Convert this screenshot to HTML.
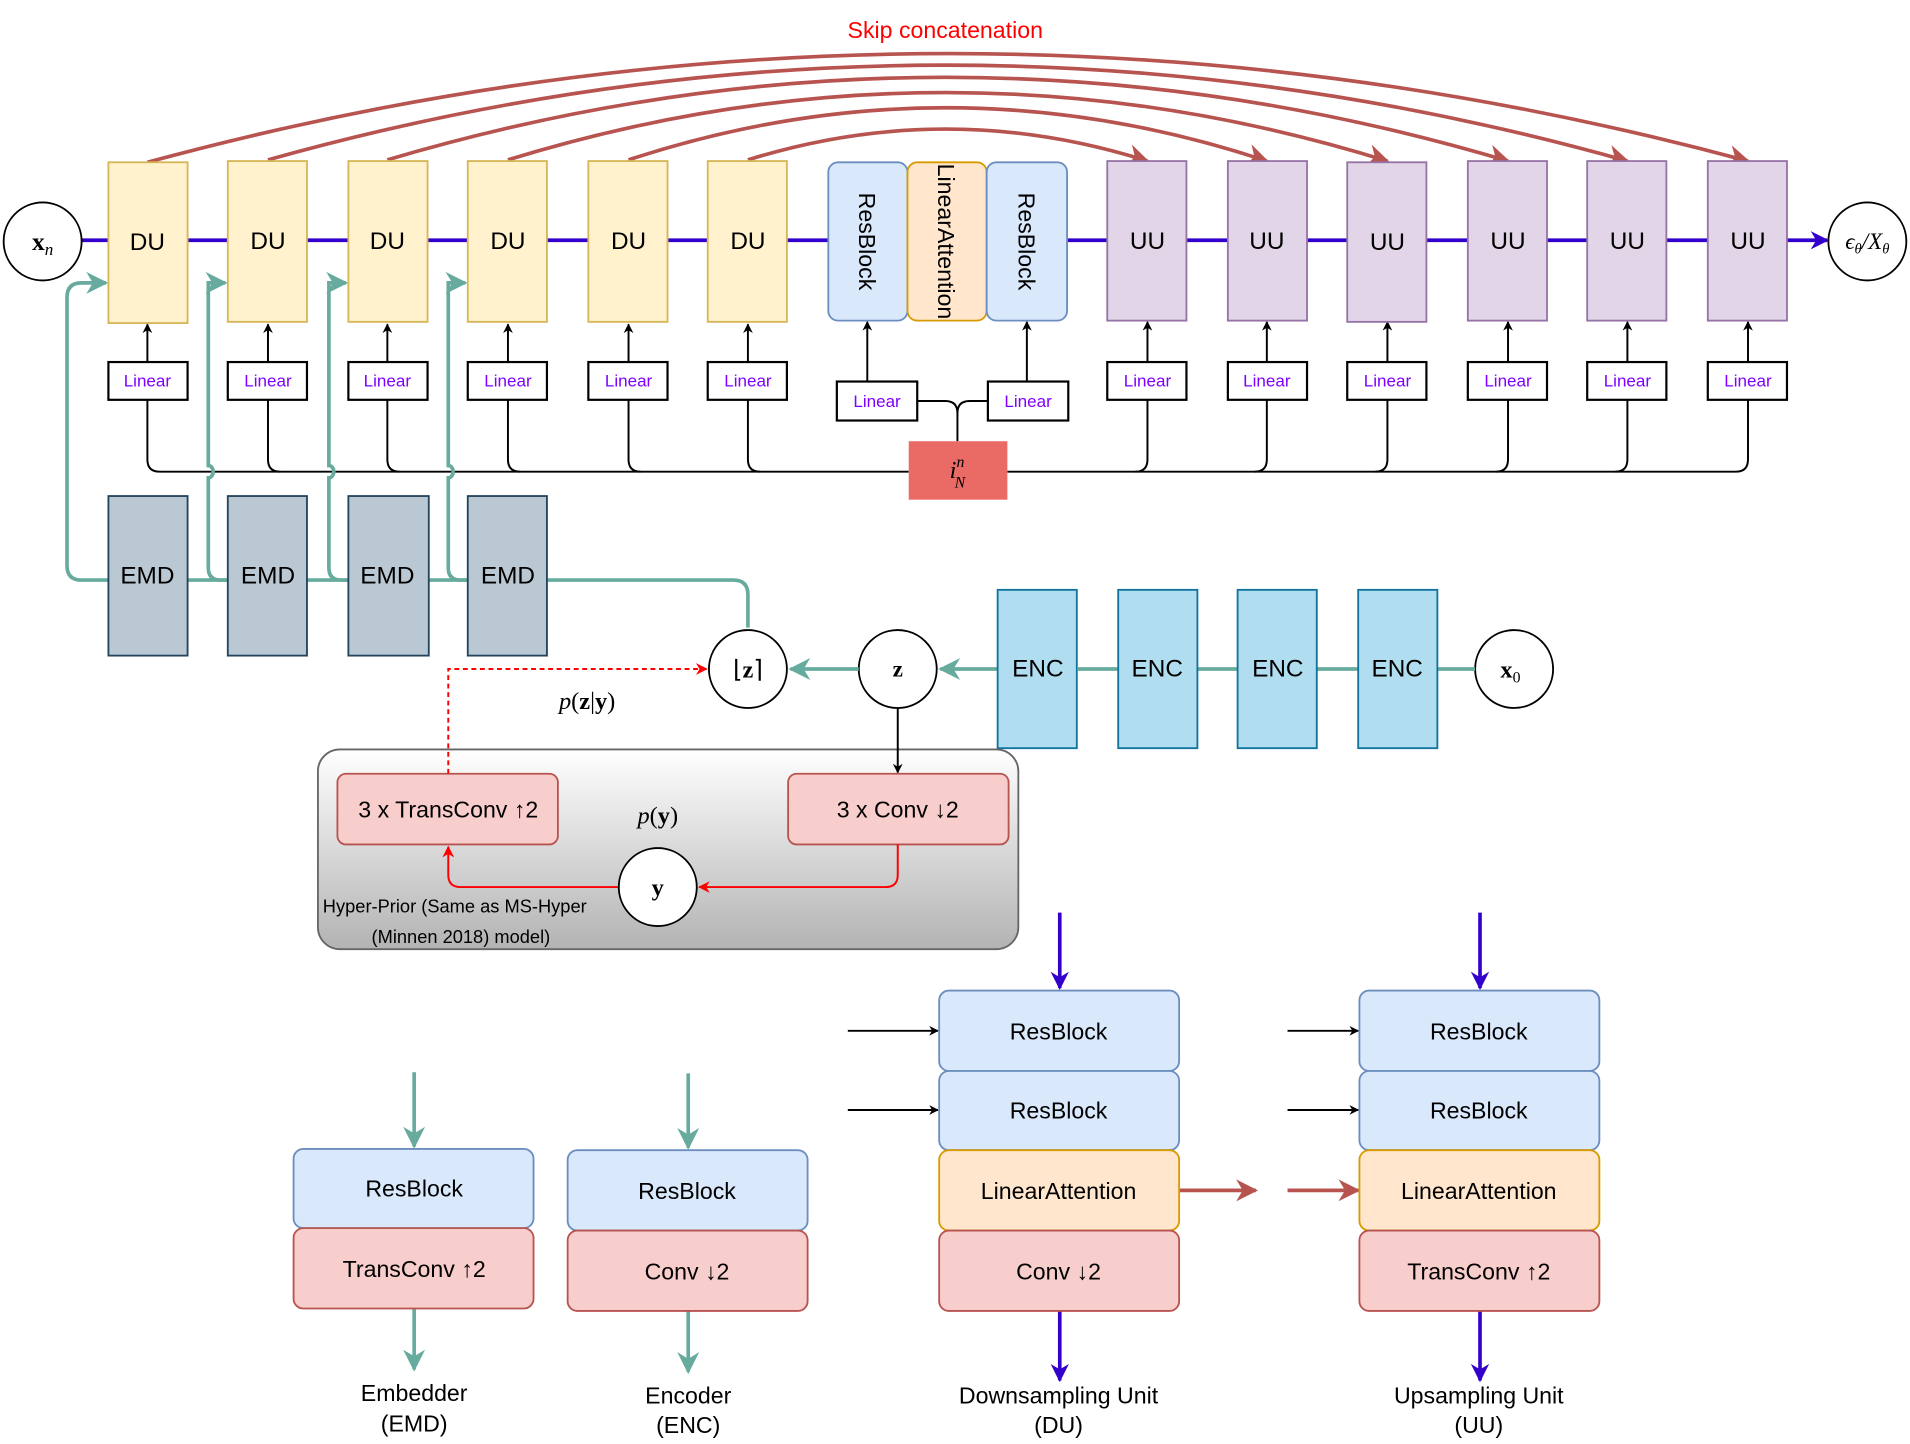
<!DOCTYPE html>
<html><head><meta charset="utf-8"><style>
html,body{margin:0;padding:0;background:#fff;}
svg{display:block;}
text{font-family:"Liberation Sans",sans-serif;}
.m{font-family:"Liberation Serif",serif;}
</style></head><body>
<svg width="1910" height="1444" viewBox="0 0 1568 1185" xmlns="http://www.w3.org/2000/svg">
<defs>
<marker id="ar" viewBox="0 0 10 10" refX="9" refY="5" markerWidth="6" markerHeight="6" orient="auto"><path d="M0,0 L10,5 L0,10 L3,5 z" fill="#b85450"/></marker>
<marker id="ab" viewBox="0 0 10 10" refX="9" refY="5" markerWidth="5" markerHeight="5" orient="auto"><path d="M0,0 L10,5 L0,10 L3,5 z" fill="#000"/></marker>
<marker id="ag" viewBox="0 0 10 10" refX="9" refY="5" markerWidth="6" markerHeight="6" orient="auto"><path d="M0,0 L10,5 L0,10 L3,5 z" fill="#67ab9f"/></marker>
<marker id="ap" viewBox="0 0 10 10" refX="9" refY="5" markerWidth="5" markerHeight="5" orient="auto"><path d="M0,0 L10,5 L0,10 L3,5 z" fill="#3300cc"/></marker>
<marker id="arr" viewBox="0 0 10 10" refX="9" refY="5" markerWidth="6" markerHeight="6" orient="auto"><path d="M0,0 L10,5 L0,10 L3,5 z" fill="#ff0000"/></marker>
<linearGradient id="gr" x1="0" y1="0" x2="0" y2="1"><stop offset="0" stop-color="#fff"/><stop offset="1" stop-color="#b3b3b3"/></linearGradient>
</defs>

<text x="776" y="31" fill="#ff0000" font-size="19" text-anchor="middle">Skip concatenation</text>
<g fill="none" stroke="#b85450" stroke-width="3" marker-end="url(#ar)">
<path d="M121 133 Q778 -45 1435 132"/>
<path d="M220 131 Q778 -25 1336 132"/>
<path d="M318 131 Q778 -5 1238 132"/>
<path d="M417 131 Q778 20 1139 132"/>
<path d="M516 131 Q778 45 1040 132"/>
<path d="M614 131 Q778 80 942 132"/>
</g>

<line x1="67" y1="197" x2="1500" y2="197" stroke="#3300cc" stroke-width="3" marker-end="url(#ap)"/>

<g fill="none" stroke="#000" stroke-width="1.6">
<path d="M121 328 V377 Q121 387 131 387 H746"/>
<path d="M1435 328 V377 Q1435 387 1425 387 H827"/>
<path d="M220 328 V377 Q220 387 230 387"/>
<path d="M318 328 V377 Q318 387 328 387"/>
<path d="M417 328 V377 Q417 387 427 387"/>
<path d="M516 328 V377 Q516 387 526 387"/>
<path d="M614 328 V377 Q614 387 624 387"/>
<path d="M942 328 V377 Q942 387 932 387"/>
<path d="M1040 328 V377 Q1040 387 1030 387"/>
<path d="M1139 328 V377 Q1139 387 1129 387"/>
<path d="M1238 328 V377 Q1238 387 1228 387"/>
<path d="M1336 328 V377 Q1336 387 1326 387"/>
<path d="M753 329 H776 Q786 329 786 339 V362"/>
<path d="M811 329 H796 Q786 329 786 339"/>
</g>
<g stroke="#000" stroke-width="1.6" marker-end="url(#ab)">
<line x1="121" y1="297" x2="121" y2="266"/><line x1="220" y1="297" x2="220" y2="266"/>
<line x1="318" y1="297" x2="318" y2="266"/><line x1="417" y1="297" x2="417" y2="266"/>
<line x1="516" y1="297" x2="516" y2="266"/><line x1="614" y1="297" x2="614" y2="266"/>
<line x1="712" y1="313" x2="712" y2="264"/><line x1="843" y1="313" x2="843" y2="264"/>
<line x1="942" y1="297" x2="942" y2="264"/><line x1="1040" y1="297" x2="1040" y2="264"/>
<line x1="1139" y1="297" x2="1139" y2="264"/><line x1="1238" y1="297" x2="1238" y2="264"/>
<line x1="1336" y1="297" x2="1336" y2="264"/><line x1="1435" y1="297" x2="1435" y2="264"/>
</g>

<g fill="none" stroke="#67ab9f" stroke-width="3">
<path d="M614 515 V488 Q614 476 602 476 H67 Q55 476 55 464 V244 Q55 232 67 232 H87" marker-end="url(#ag)"/>
<path d="M187 476 H181 Q171 476 171 466 V392 A4 5 0 0 0 171 382 V232 H185" marker-end="url(#ag)"/>
<path d="M286 476 H280 Q270 476 270 466 V392 A4 5 0 0 0 270 382 V232 H284" marker-end="url(#ag)"/>
<path d="M384 476 H378 Q368 476 368 466 V392 A4 5 0 0 0 368 382 V232 H382" marker-end="url(#ag)"/>
</g>

<g fill="#fff2cc" stroke="#d6b656" stroke-width="1.5">
<rect x="89" y="133" width="65" height="132"/><rect x="187" y="132" width="65" height="132"/>
<rect x="286" y="132" width="65" height="132"/><rect x="384" y="132" width="65" height="132"/>
<rect x="483" y="132" width="65" height="132"/><rect x="581" y="132" width="65" height="132"/>
</g>
<g font-size="20" text-anchor="middle">
<text x="121" y="205">DU</text><text x="220" y="204">DU</text><text x="318" y="204">DU</text>
<text x="417" y="204">DU</text><text x="516" y="204">DU</text><text x="614" y="204">DU</text>
</g>
<rect x="680" y="133" width="65" height="130" rx="8" fill="#dae8fc" stroke="#6c8ebf" stroke-width="1.5"/>
<rect x="745" y="133" width="65" height="130" rx="8" fill="#ffe6cc" stroke="#d79b00" stroke-width="1.5"/>
<rect x="810" y="133" width="66" height="130" rx="8" fill="#dae8fc" stroke="#6c8ebf" stroke-width="1.5"/>
<g font-size="19" text-anchor="middle">
<text transform="translate(705,198) rotate(90)">ResBlock</text>
<text transform="translate(770,198) rotate(90)">LinearAttention</text>
<text transform="translate(836,198) rotate(90)">ResBlock</text>
</g>
<g fill="#e1d5e7" stroke="#9673a6" stroke-width="1.5">
<rect x="909" y="132" width="65" height="131"/><rect x="1008" y="132" width="65" height="131"/>
<rect x="1106" y="133" width="65" height="131"/><rect x="1205" y="132" width="65" height="131"/>
<rect x="1303" y="132" width="65" height="131"/><rect x="1402" y="132" width="65" height="131"/>
</g>
<g font-size="20" text-anchor="middle">
<text x="942" y="204">UU</text><text x="1040" y="204">UU</text><text x="1139" y="205">UU</text>
<text x="1238" y="204">UU</text><text x="1336" y="204">UU</text><text x="1435" y="204">UU</text>
</g>

<g fill="#fff" stroke="#000" stroke-width="1.8">
<rect x="89" y="297" width="65" height="31"/><rect x="187" y="297" width="65" height="31"/>
<rect x="286" y="297" width="65" height="31"/><rect x="384" y="297" width="65" height="31"/>
<rect x="483" y="297" width="65" height="31"/><rect x="581" y="297" width="65" height="31"/>
<rect x="687" y="313" width="66" height="32"/><rect x="811" y="313" width="66" height="32"/>
<rect x="909" y="297" width="65" height="31"/><rect x="1008" y="297" width="65" height="31"/>
<rect x="1106" y="297" width="65" height="31"/><rect x="1205" y="297" width="65" height="31"/>
<rect x="1303" y="297" width="65" height="31"/><rect x="1402" y="297" width="65" height="31"/>
</g>
<g font-size="14" fill="#7f00ff" text-anchor="middle">
<text x="121" y="317">Linear</text><text x="220" y="317">Linear</text><text x="318" y="317">Linear</text>
<text x="417" y="317">Linear</text><text x="516" y="317">Linear</text><text x="614" y="317">Linear</text>
<text x="720" y="334">Linear</text><text x="844" y="334">Linear</text>
<text x="942" y="317">Linear</text><text x="1040" y="317">Linear</text><text x="1139" y="317">Linear</text>
<text x="1238" y="317">Linear</text><text x="1336" y="317">Linear</text><text x="1435" y="317">Linear</text>
</g>

<rect x="746" y="362" width="81" height="48" fill="#ea6b66"/>
<text x="786" y="392" class="m" font-size="20" font-style="italic" text-anchor="middle">i<tspan font-size="13" dy="-9">n</tspan><tspan font-size="13" dx="-8" dy="17">N</tspan></text>

<g fill="#bac8d3" stroke="#23445d" stroke-width="1.5">
<rect x="89" y="407" width="65" height="131"/><rect x="187" y="407" width="65" height="131"/>
<rect x="286" y="407" width="66" height="131"/><rect x="384" y="407" width="65" height="131"/>
</g>
<g font-size="20" text-anchor="middle">
<text x="121" y="479">EMD</text><text x="220" y="479">EMD</text><text x="318" y="479">EMD</text><text x="417" y="479">EMD</text>
</g>

<g fill="#fff" stroke="#000" stroke-width="1.5">
<circle cx="35" cy="198" r="32"/><circle cx="1533" cy="198" r="32"/>
<circle cx="614" cy="549" r="32"/><circle cx="737" cy="549" r="32"/><circle cx="1243" cy="549" r="32"/>
</g>
<text x="35" y="205" class="m" font-size="21" text-anchor="middle"><tspan font-weight="bold">x</tspan><tspan font-style="italic" font-size="14" dy="4">n</tspan></text>
<text x="1533" y="204" class="m" font-size="19" font-style="italic" text-anchor="middle">ϵ<tspan font-size="12" dy="4">θ</tspan><tspan dy="-4">/X</tspan><tspan font-size="12" dy="4">θ</tspan></text>
<text x="614" y="556" class="m" font-size="20" text-anchor="middle">⌊<tspan font-weight="bold">z</tspan>⌉</text>
<text x="737" y="555" class="m" font-size="19" font-weight="bold" text-anchor="middle">z</text>
<text x="1240" y="556" class="m" font-size="20" text-anchor="middle"><tspan font-weight="bold">x</tspan><tspan font-size="13" dy="4">0</tspan></text>

<g fill="none" stroke="#67ab9f" stroke-width="3">
<line x1="1211" y1="549" x2="885" y2="549"/>
<line x1="819" y1="549" x2="772" y2="549" marker-end="url(#ag)"/>
<line x1="705" y1="549" x2="649" y2="549" marker-end="url(#ag)"/>
</g>
<g fill="#b1ddf0" stroke="#10739e" stroke-width="1.5">
<rect x="819" y="484" width="65" height="130"/><rect x="918" y="484" width="65" height="130"/>
<rect x="1016" y="484" width="65" height="130"/><rect x="1115" y="484" width="65" height="130"/>
</g>
<g font-size="20" text-anchor="middle">
<text x="852" y="555">ENC</text><text x="950" y="555">ENC</text><text x="1049" y="555">ENC</text><text x="1147" y="555">ENC</text>
</g>

<rect x="261" y="615" width="575" height="164" rx="18" fill="url(#gr)" stroke="#666" stroke-width="1.5"/>
<line x1="737" y1="581" x2="737" y2="634" stroke="#000" stroke-width="1.6" marker-end="url(#ab)"/>
<rect x="277" y="635" width="181" height="58" rx="7" fill="#f8cecc" stroke="#b85450" stroke-width="1.5"/>
<rect x="647" y="635" width="181" height="58" rx="7" fill="#f8cecc" stroke="#b85450" stroke-width="1.5"/>
<text x="368" y="671" font-size="19" text-anchor="middle">3 x TransConv ↑2</text>
<text x="737" y="671" font-size="19" text-anchor="middle">3 x Conv ↓2</text>
<text x="540" y="676" class="m" font-size="20" text-anchor="middle"><tspan font-style="italic">p</tspan>(<tspan font-weight="bold">y</tspan>)</text>
<g fill="none" stroke="#ff0000" stroke-width="1.6">
<path d="M737 693 V718 Q737 728 727 728 H574" marker-end="url(#arr)"/>
<path d="M508 728 H378 Q368 728 368 718 V695" marker-end="url(#arr)"/>
<path d="M368 635 V549 H580" stroke-dasharray="4 3" marker-end="url(#arr)"/>
</g>
<circle cx="540" cy="728" r="32" fill="#fff" stroke="#000" stroke-width="1.5"/>
<text x="540" y="735" class="m" font-size="20" font-weight="bold" text-anchor="middle">y</text>
<text x="482" y="582" class="m" font-size="20" text-anchor="middle"><tspan font-style="italic">p</tspan>(<tspan font-weight="bold">z</tspan>|<tspan font-weight="bold">y</tspan>)</text>
<text x="265" y="749" font-size="15">Hyper-Prior (Same as MS-Hyper</text>
<text x="305" y="774" font-size="15">(Minnen 2018) model)</text>

<g stroke-width="3" fill="none">
<line x1="340" y1="880" x2="340" y2="941" stroke="#67ab9f" marker-end="url(#ag)"/>
<line x1="340" y1="1074" x2="340" y2="1124" stroke="#67ab9f" marker-end="url(#ag)"/>
<line x1="565" y1="881" x2="565" y2="942" stroke="#67ab9f" marker-end="url(#ag)"/>
<line x1="565" y1="1076" x2="565" y2="1126" stroke="#67ab9f" marker-end="url(#ag)"/>
<line x1="870" y1="749" x2="870" y2="811" stroke="#3300cc" marker-end="url(#ap)"/>
<line x1="870" y1="1076" x2="870" y2="1133" stroke="#3300cc" marker-end="url(#ap)"/>
<line x1="1215" y1="749" x2="1215" y2="811" stroke="#3300cc" marker-end="url(#ap)"/>
<line x1="1215" y1="1076" x2="1215" y2="1133" stroke="#3300cc" marker-end="url(#ap)"/>
<line x1="968" y1="977" x2="1031" y2="977" stroke="#b85450" marker-end="url(#ar)"/>
<line x1="1057" y1="977" x2="1115" y2="977" stroke="#b85450" marker-end="url(#ar)"/>
</g>
<g stroke="#000" stroke-width="1.6" marker-end="url(#ab)">
<line x1="696" y1="846" x2="770" y2="846"/><line x1="696" y1="911" x2="770" y2="911"/>
<line x1="1057" y1="846" x2="1115" y2="846"/><line x1="1057" y1="911" x2="1115" y2="911"/>
</g>
<g stroke-width="1.5">
<rect x="241" y="943" width="197" height="65" rx="8" fill="#dae8fc" stroke="#6c8ebf"/>
<rect x="241" y="1008" width="197" height="66" rx="8" fill="#f8cecc" stroke="#b85450"/>
<rect x="466" y="944" width="197" height="66" rx="8" fill="#dae8fc" stroke="#6c8ebf"/>
<rect x="466" y="1010" width="197" height="66" rx="8" fill="#f8cecc" stroke="#b85450"/>
<rect x="771" y="813" width="197" height="66" rx="8" fill="#dae8fc" stroke="#6c8ebf"/>
<rect x="771" y="879" width="197" height="65" rx="8" fill="#dae8fc" stroke="#6c8ebf"/>
<rect x="771" y="944" width="197" height="66" rx="8" fill="#ffe6cc" stroke="#d79b00"/>
<rect x="771" y="1010" width="197" height="66" rx="8" fill="#f8cecc" stroke="#b85450"/>
<rect x="1116" y="813" width="197" height="66" rx="8" fill="#dae8fc" stroke="#6c8ebf"/>
<rect x="1116" y="879" width="197" height="65" rx="8" fill="#dae8fc" stroke="#6c8ebf"/>
<rect x="1116" y="944" width="197" height="66" rx="8" fill="#ffe6cc" stroke="#d79b00"/>
<rect x="1116" y="1010" width="197" height="66" rx="8" fill="#f8cecc" stroke="#b85450"/>
</g>
<g font-size="19" text-anchor="middle">
<text x="340" y="982">ResBlock</text><text x="340" y="1048">TransConv ↑2</text>
<text x="564" y="984">ResBlock</text><text x="564" y="1050">Conv ↓2</text>
<text x="869" y="853">ResBlock</text><text x="869" y="918">ResBlock</text>
<text x="869" y="984">LinearAttention</text><text x="869" y="1050">Conv ↓2</text>
<text x="1214" y="853">ResBlock</text><text x="1214" y="918">ResBlock</text>
<text x="1214" y="984">LinearAttention</text><text x="1214" y="1050">TransConv ↑2</text>
<text x="340" y="1150">Embedder</text><text x="340" y="1175">(EMD)</text>
<text x="565" y="1152">Encoder</text><text x="565" y="1176">(ENC)</text>
<text x="869" y="1152">Downsampling Unit</text><text x="869" y="1176">(DU)</text>
<text x="1214" y="1152">Upsampling Unit</text><text x="1214" y="1176">(UU)</text>
</g>
</svg>
</body></html>
